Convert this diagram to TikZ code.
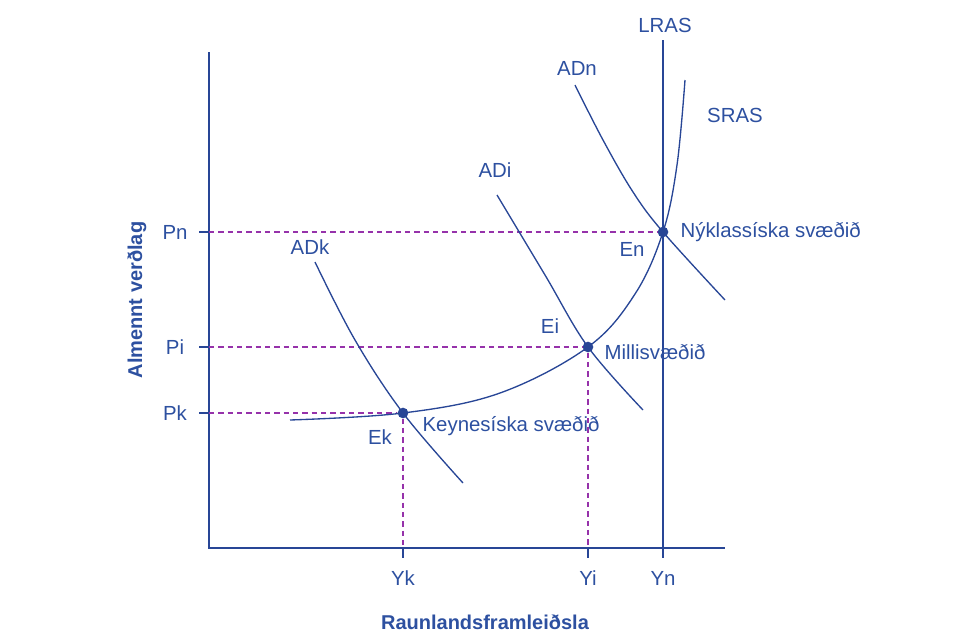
\documentclass[tikz,border=0pt]{standalone}
\usepackage{fontspec}
\setmainfont{Liberation Sans}
\usetikzlibrary{calc}
\definecolor{curveblue}{RGB}{40,70,150}
\definecolor{textblue}{RGB}{45,80,160}
\definecolor{guidepurple}{RGB}{150,50,170}
\begin{document}
\begin{tikzpicture}[
    x=0.75pt, y=-0.75pt,
    curve/.style={curveblue, line width=1pt},
    guide/.style={guidepurple, dashed, line width=0.9pt, dash pattern=on 4pt off 3pt},
    lbl/.style={text=textblue, font=\fontsize{15.3}{17}\selectfont, inner sep=1pt},
    axlbl/.style={text=textblue, font=\fontsize{15}{17}\selectfont\bfseries},
    eq/.style={circle, fill=curveblue, inner sep=0pt, minimum size=8pt},
  ]
    \useasboundingbox (0,0) rectangle (976,643);

    % Axes
    \coordinate (origin) at (209,548);
    \coordinate (ytop) at (209,52);
    \coordinate (xend) at (725,548);
    \draw[curve] (ytop) -- (origin) -- (xend);

    % Equilibria
    \node[eq] (En) at (663,232) {};
    \node[eq] (Ei) at (588,347) {};
    \node[eq] (Ek) at (403,413) {};

    % Axis points
    \coordinate (pn) at (209,232);
    \coordinate (pi) at (209,347);
    \coordinate (pk) at (209,413);
    \coordinate (yk) at (403,548);
    \coordinate (yi) at (588,548);
    \coordinate (yn) at (663,548);

    % Ticks
    \foreach \p in {pn,pi,pk} \draw[curve] (\p) -- ++(-10,0);
    \foreach \p in {yk,yi,yn} \draw[curve] (\p) -- ++(0,10);

    % Guides
    \draw[guide] (pn) -- (En);
    \draw[guide] (pi) -- (Ei) -- (yi);
    \draw[guide] (pk) -- (Ek) -- (yk);

    % LRAS
    \coordinate (lrastop) at (663,40);
    \draw[curve] (lrastop) -- (yn);

    % SRAS
    \draw[curve] plot[smooth, tension=0.6] coordinates
      {(290,420) (Ek.center) (500,393) (Ei.center) (635,294) (En.center) (677,165) (685,80)};

    % AD curves
    \draw[curve] plot[smooth, tension=0.6] coordinates {(575,85) (603,140) (633,192) (En.center) (725,300)};
    \draw[curve] plot[smooth, tension=0.6] coordinates {(497,195) (545,275) (Ei.center) (643,410)};
    \draw[curve] plot[smooth, tension=0.6] coordinates {(315,262) (355,340) (Ek.center) (463,483)};

    % Curve labels
    \node[lbl] (lras) at (665,25) {LRAS};
    \node[lbl] (sras) at (735,115) {SRAS};
    \node[lbl] (adn) at (577,68) {ADn};
    \node[lbl] (adi) at (495,170) {ADi};
    \node[lbl] (adk) at (310,247) {ADk};

    % Point labels
    \node[lbl, anchor=west] at (679,232) {Nýklassíska svæðið};
    \node[lbl] at (632,249) {En};
    \node[lbl] at (550,326) {Ei};
    \node[lbl, anchor=west] at (603,352) {Millisvæðið};
    \node[lbl] at (380,437) {Ek};
    \node[lbl, anchor=west] at (421,426) {Keynesíska svæðið};

    % Tick labels
    \node[lbl] at (175,232) {Pn};
    \node[lbl] at (175,347) {Pi};
    \node[lbl] at (175,413) {Pk};
    \node[lbl] at (403,578) {Yk};
    \node[lbl] at (588,578) {Yi};
    \node[lbl] at (663,578) {Yn};

    % Axis titles
    \node[axlbl, rotate=90] at (137,300) {Almennt verðlag};
    \node[axlbl] at (485,622) {Raunlandsframleiðsla};
  \end{tikzpicture}
\end{document}
